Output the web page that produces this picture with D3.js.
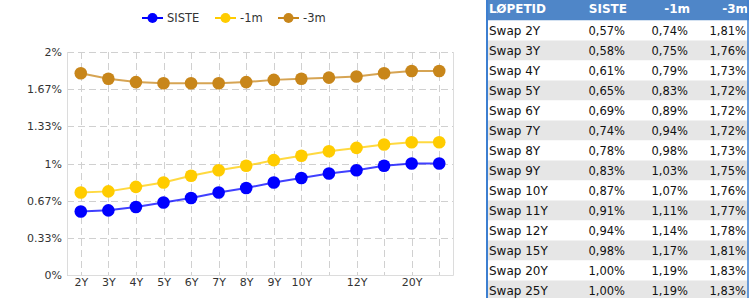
<!DOCTYPE html>
<html>
<head>
<meta charset="utf-8">
<script src="https://cdn.jsdelivr.net/npm/d3@7"></script>
<style>
  html, body { margin: 0; padding: 0; background: #fff; overflow: hidden; }
  svg { display: block; font-family: "DejaVu Sans", sans-serif; }
</style>
</head>
<body>
<svg id="chart" width="749" height="298"></svg>
<script>
// tenors on the curve
const tenors = ["2Y", "3Y", "4Y", "5Y", "6Y", "7Y", "8Y", "9Y", "10Y", "11Y", "12Y", "15Y", "20Y", "25Y"];
const xTickLabels = ["2Y", "3Y", "4Y", "5Y", "6Y", "7Y", "8Y", "9Y", "10Y", "12Y", "20Y"];
const yTicks = [0, 1/3, 2/3, 1, 4/3, 5/3, 2];
const yTickLabels = ["0%", "0.33%", "0.67%", "1%", "1.33%", "1.67%", "2%"];

const seriesNames = ["SISTE", "-1m", "-3m"];
const siste = [0.57, 0.58, 0.61, 0.65, 0.69, 0.74, 0.78, 0.83, 0.87, 0.91, 0.94, 0.98, 1.00, 1.00];
const m1 = [0.74, 0.75, 0.79, 0.83, 0.89, 0.94, 0.98, 1.03, 1.07, 1.11, 1.14, 1.17, 1.19, 1.19];
const m3 = [1.81, 1.76, 1.73, 1.72, 1.72, 1.72, 1.73, 1.75, 1.76, 1.77, 1.78, 1.81, 1.83, 1.83];
const colors = ["#0000ff", "#ffcc00", "#c8861a"];

const tableHeader = ["LØPETID", "SISTE", "-1m", "-3m"];

const svg = d3.select("#chart");
const margin = {left: 67, right: 296, top: 52, bottom: 23};
const W = 749, H = 298;

const x = d3.scalePoint()
    .domain(tenors)
    .range([margin.left, W - margin.right])
    .padding(0.5);

const y = d3.scaleLinear()
    .domain([0, 2])
    .range([H - margin.bottom, margin.top]);

const plot = svg.append("g");

// grid
plot.selectAll(".hgrid")
    .data(yTicks)
    .enter().append("line")
    .attr("x1", margin.left).attr("x2", W - margin.right)
    .attr("y1", d => Math.round(y(d)) + 0.5).attr("y2", d => Math.round(y(d)) + 0.5)
    .style("stroke", "#d0d0d0")
    .style("stroke-dasharray", "7,4");

plot.selectAll(".vgrid")
    .data(tenors)
    .enter().append("line")
    .attr("x1", d => Math.round(x(d)) + 0.5).attr("x2", d => Math.round(x(d)) + 0.5)
    .attr("y1", margin.top).attr("y2", H - margin.bottom)
    .style("stroke", "#d0d0d0")
    .style("stroke-dasharray", "7,4");

// frame (left, bottom, right)
plot.append("path")
    .attr("d", `M${margin.left + 0.5},${margin.top}V${H - margin.bottom + 0.5}H${W - margin.right + 0.5}V${margin.top}`)
    .style("fill", "none")
    .style("stroke", "#dcdcdc");

// y axis labels
const yAxis = d3.axisLeft(y).tickValues(yTicks)
    .tickFormat((d, i) => yTickLabels[i]).tickSize(0).tickPadding(5);
plot.append("g")
    .attr("transform", `translate(${margin.left},0)`)
    .call(yAxis)
    .call(g => g.select(".domain").remove())
    .call(g => g.selectAll("text").style("font-size", "11px").style("fill", "#333")
        .style("font-family", "DejaVu Sans, sans-serif"));

// x axis labels
const xAxis = d3.axisBottom(x).tickValues(xTickLabels).tickSize(0).tickPadding(3);
plot.append("g")
    .attr("transform", `translate(0,${H - margin.bottom})`)
    .call(xAxis)
    .call(g => g.select(".domain").remove())
    .call(g => g.selectAll("text").style("font-size", "11px").style("fill", "#333")
        .style("font-family", "DejaVu Sans, sans-serif"));

// series
const series = [siste, m1, m3];
const line = d3.line().x((d, i) => x(tenors[i])).y(d => y(d));

series.forEach((vals, s) => {
    plot.append("path")
        .datum(vals)
        .attr("d", line)
        .style("fill", "none")
        .style("stroke", colors[s])
        .style("stroke-opacity", 0.75)
        .style("stroke-width", 2);

    plot.selectAll(".pt-" + s)
        .data(vals)
        .enter().append("circle")
        .attr("cx", (d, i) => x(tenors[i]))
        .attr("cy", d => y(d))
        .attr("r", 6.3)
        .style("fill", colors[s]);
});

// legend
const legendX = [142, 215, 278];
const legend = svg.append("g");
seriesNames.forEach((name, i) => {
    const g = legend.append("g").attr("transform", `translate(${legendX[i]},18)`);
    g.append("line").attr("x1", 0).attr("x2", 21).attr("y1", 0).attr("y2", 0)
        .style("stroke", colors[i]).style("stroke-width", 2);
    g.append("circle").attr("cx", 10.5).attr("cy", 0).attr("r", 5).style("fill", colors[i]);
    g.append("text").attr("x", 25).attr("y", 0).attr("dy", "0.35em")
        .text(name).style("font-size", "11.5px").style("fill", "#333");
});

// table
const tab = svg.append("g");
const tLeft = 487, rowH = 20, headH = 20.5;
const colRight = [null, 625, 688, 746];
const allVals = [siste, m1, m3];

tab.append("rect").attr("x", tLeft).attr("y", 0).attr("width", W - tLeft).attr("height", headH)
    .style("fill", "#4f86c8");

tenors.forEach((t, i) => {
    const top = headH + i * rowH;
    tab.append("rect").attr("x", tLeft).attr("y", top).attr("width", W - tLeft).attr("height", rowH)
        .style("fill", i % 2 === 1 ? "#e6e6e6" : "#fff");
    const cy = top + rowH / 2;
    tab.append("text").attr("x", tLeft + 2).attr("y", cy).attr("dy", "0.35em")
        .text("Swap " + t).style("font-size", "12px").style("fill", "#111");
    allVals.forEach((vals, c) => {
        tab.append("text").attr("x", colRight[c + 1]).attr("y", cy).attr("dy", "0.35em")
            .attr("text-anchor", "end")
            .text(d3.format(".2f")(vals[i]).replace(".", ",") + "%")
            .style("font-size", "11.5px").style("fill", "#111");
    });
});

tableHeader.forEach((h, c) => {
    tab.append("text")
        .attr("x", c === 0 ? tLeft + 2 : colRight[c] + 2)
        .attr("y", headH / 2 - 1).attr("dy", "0.35em")
        .attr("text-anchor", c === 0 ? "start" : "end")
        .text(h)
        .style("font-size", "12px").style("font-weight", "bold").style("fill", "#fff");
});

// table borders
tab.append("line").attr("x1", tLeft).attr("x2", tLeft).attr("y1", 0).attr("y2", H)
    .style("stroke", "#3d7fd0").style("stroke-width", 2);
tab.append("line").attr("x1", 748).attr("x2", 748).attr("y1", 0).attr("y2", H)
    .style("stroke", "#3d7fd0").style("stroke-width", 1.5);
</script>
</body>
</html>
